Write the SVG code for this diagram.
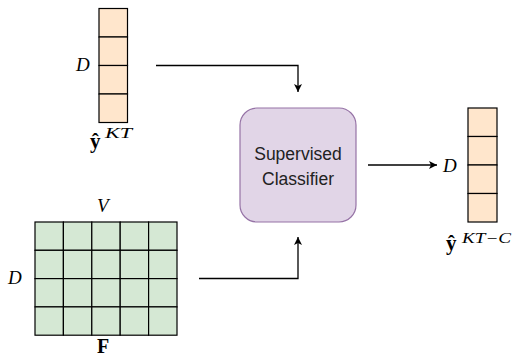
<svg xmlns="http://www.w3.org/2000/svg" width="515" height="358" viewBox="0 0 515 358">
<defs>
<marker id="arr" markerWidth="10" markerHeight="10" refX="8" refY="5" orient="auto" markerUnits="userSpaceOnUse">
<path d="M0,1 L8,5 L0,9 L2,5 Z" fill="#000"/>
</marker>
</defs>
<style>
.cell{stroke:#000;stroke-width:1.2}
.vec{fill:#ffe6cc}
.mat{fill:#d5e8d4}
.math{font-family:"Liberation Serif",serif;font-style:italic;font-size:19px;fill:#000}
.sup{font-family:"Liberation Serif",serif;font-style:italic;font-size:14.5px;fill:#000}
.bold{font-family:"Liberation Serif",serif;font-weight:bold;font-size:21px;fill:#000}
.lbl{font-family:"Liberation Sans",Arial,sans-serif;font-size:17.5px;fill:#222;text-anchor:middle}
.edge{fill:none;stroke:#000;stroke-width:1.3}
</style>
<g id="yKT">
<rect class="cell vec" x="99" y="8.5" width="28.5" height="28.5"/>
<rect class="cell vec" x="99" y="37" width="28.5" height="28.5"/>
<rect class="cell vec" x="99" y="65.5" width="28.5" height="28.5"/>
<rect class="cell vec" x="99" y="94" width="28.5" height="28.5"/>
<text class="math" x="76" y="71">D</text>
<text class="bold" x="90" y="148">ŷ</text>
<text class="sup" x="105" y="138" textLength="27" lengthAdjust="spacingAndGlyphs">KT</text>
</g>
<g id="F">
<g class="cell mat">
<rect x="35" y="222" width="28.4" height="28.3"/><rect x="63.4" y="222" width="28.4" height="28.3"/><rect x="91.8" y="222" width="28.4" height="28.3"/><rect x="120.2" y="222" width="28.4" height="28.3"/><rect x="148.6" y="222" width="28.4" height="28.3"/>
<rect x="35" y="250.3" width="28.4" height="28.3"/><rect x="63.4" y="250.3" width="28.4" height="28.3"/><rect x="91.8" y="250.3" width="28.4" height="28.3"/><rect x="120.2" y="250.3" width="28.4" height="28.3"/><rect x="148.6" y="250.3" width="28.4" height="28.3"/>
<rect x="35" y="278.6" width="28.4" height="28.3"/><rect x="63.4" y="278.6" width="28.4" height="28.3"/><rect x="91.8" y="278.6" width="28.4" height="28.3"/><rect x="120.2" y="278.6" width="28.4" height="28.3"/><rect x="148.6" y="278.6" width="28.4" height="28.3"/>
<rect x="35" y="306.9" width="28.4" height="28.3"/><rect x="63.4" y="306.9" width="28.4" height="28.3"/><rect x="91.8" y="306.9" width="28.4" height="28.3"/><rect x="120.2" y="306.9" width="28.4" height="28.3"/><rect x="148.6" y="306.9" width="28.4" height="28.3"/>
</g>
<text class="math" x="97" y="212">V</text>
<text class="math" x="8" y="284">D</text>
<text class="bold" x="97" y="353" style="font-size:20px">F</text>
</g>
<g id="classifier">
<rect x="240" y="108" width="116" height="114" rx="17" ry="17" fill="#e1d5e7" stroke="#9673a6" stroke-width="1.2"/>
<text class="lbl" x="298" y="160">Supervised</text>
<text class="lbl" x="298" y="185">Classifier</text>
</g>
<g id="yKTC">
<rect class="cell vec" x="468" y="108" width="29" height="28.5"/>
<rect class="cell vec" x="468" y="136.5" width="29" height="28.5"/>
<rect class="cell vec" x="468" y="165" width="29" height="28.5"/>
<rect class="cell vec" x="468" y="193.5" width="29" height="28.5"/>
<text class="math" x="443" y="172">D</text>
<text class="bold" x="446" y="250">ŷ</text>
<text class="sup" x="462" y="243" textLength="49" lengthAdjust="spacingAndGlyphs">KT−C</text>
</g>
<g id="connectors">
<path class="edge" d="M156,65.5 H298 V92" marker-end="url(#arr)"/>
<path class="edge" d="M199,278.5 H298 V237" marker-end="url(#arr)"/>
<path class="edge" d="M368,165 H437" marker-end="url(#arr)"/>
</g>
</svg>
